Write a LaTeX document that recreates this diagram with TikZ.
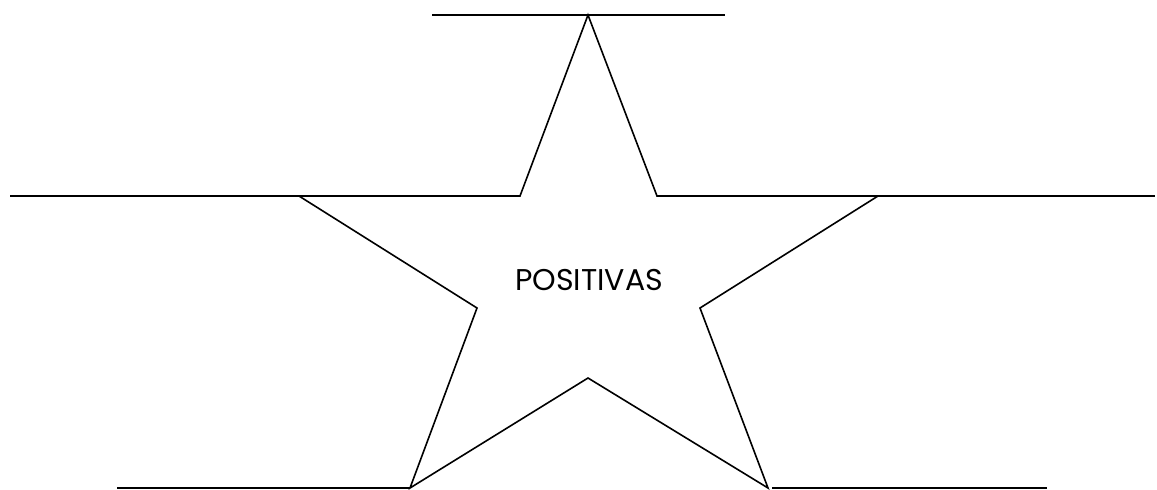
\documentclass[tikz,border=0pt]{standalone}
\usepackage{fontspec}
\setmainfont{Poppins}
\usepackage{tikz}
\usetikzlibrary{positioning}

\begin{document}
\begin{tikzpicture}[
        x=0.5pt, y=-0.5pt,
        ln/.style={black, line width=0.8pt},
        lbl/.style={font=\fontsize{15}{17}\selectfont, inner sep=0pt}
      ]
        \useasboundingbox (0,0) rectangle (1157,489);
        % star points
        \coordinate (top) at (588,15);
        \coordinate (ul)  at (520,196);
        \coordinate (lt)  at (299,196);
        \coordinate (il)  at (477,308);
        \coordinate (bl)  at (410,488);
        \coordinate (ib)  at (588,378);
        \coordinate (br)  at (768,488);
        \coordinate (ir)  at (700,308);
        \coordinate (rt)  at (878,196);
        \coordinate (ur)  at (657,196);
        \draw[ln, line join=miter] (top)--(ul)--(lt)--(il)--(bl)--(ib)--(br)--(ir)--(rt)--(ur)--cycle;
        % lines at the tips
        \coordinate (t1) at (432,15);   \coordinate (t2) at (725,15);
        \coordinate (l1) at (10,196);   \coordinate (r2) at (1155,196);
        \coordinate (b1) at (117,488);  \coordinate (b2) at (772,488);
        \coordinate (b3) at (1047,488);
        \draw[ln] (t1)--(t2) (l1)--(lt) (rt)--(r2) (b1)--(bl) (b2)--(b3);
        \node[lbl] (txt) at (589,280) {POSITIVAS};
      \end{tikzpicture}
\end{document}
